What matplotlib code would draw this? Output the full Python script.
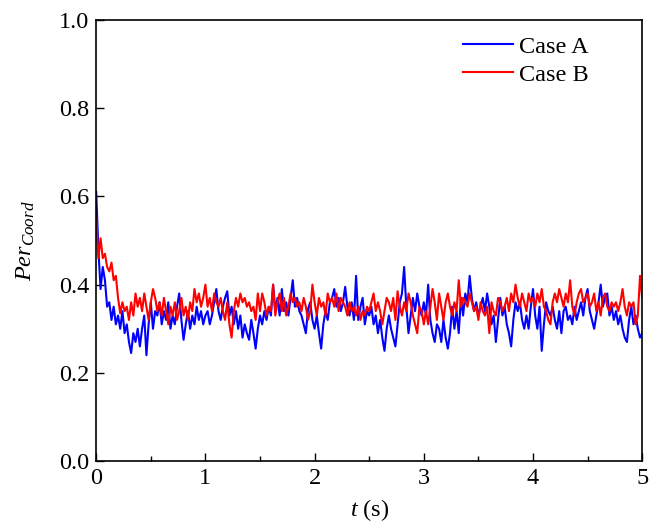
import matplotlib
matplotlib.use("Agg")
import matplotlib.pyplot as plt
import numpy as np
from matplotlib.ticker import MultipleLocator, FormatStrFormatter

case_a_0_1 = [0.61, 0.48, 0.39, 0.44, 0.41, 0.35, 0.36, 0.32, 0.35, 0.31,
              0.33, 0.30, 0.34, 0.29, 0.31, 0.27, 0.245, 0.29, 0.27, 0.30,
              0.26, 0.30, 0.33, 0.24, 0.31, 0.36, 0.30, 0.34, 0.33, 0.36,
              0.31, 0.34, 0.32, 0.36, 0.30, 0.33, 0.31, 0.35, 0.38, 0.32,
              0.275, 0.31, 0.34, 0.30, 0.33, 0.31, 0.35, 0.32, 0.34, 0.31,
              0.33]
case_a_1_2 = [0.34, 0.31, 0.33, 0.36, 0.39, 0.34, 0.32, 0.35, 0.37, 0.385,
              0.33, 0.35, 0.31, 0.34, 0.30, 0.33, 0.28, 0.31, 0.29, 0.275,
              0.32, 0.29, 0.255, 0.30, 0.33, 0.31, 0.34, 0.32, 0.35, 0.33,
              0.40, 0.34, 0.37, 0.33, 0.39, 0.34, 0.36, 0.33, 0.37, 0.41,
              0.35, 0.37, 0.34, 0.33, 0.31, 0.29, 0.345, 0.36, 0.32, 0.30]
case_a_2_3 = [0.33, 0.29, 0.255, 0.31, 0.34, 0.32, 0.36, 0.37, 0.39, 0.35,
              0.37, 0.34, 0.36, 0.395, 0.35, 0.33, 0.36, 0.32, 0.42, 0.32,
              0.35, 0.37, 0.31, 0.34, 0.33, 0.35, 0.31, 0.33, 0.29, 0.32,
              0.28, 0.25, 0.30, 0.33, 0.30, 0.28, 0.26, 0.31, 0.36, 0.38,
              0.44, 0.35, 0.29, 0.33, 0.37, 0.34, 0.38, 0.35, 0.33, 0.36]
case_a_3_4 = [0.33, 0.40, 0.32, 0.29, 0.27, 0.31, 0.30, 0.27, 0.32, 0.28,
              0.255, 0.29, 0.35, 0.30, 0.34, 0.29, 0.37, 0.33, 0.38, 0.36,
              0.42, 0.37, 0.34, 0.36, 0.33, 0.35, 0.37, 0.34, 0.38, 0.35,
              0.31, 0.33, 0.27, 0.32, 0.37, 0.33, 0.35, 0.31, 0.29, 0.26,
              0.32, 0.36, 0.34, 0.36, 0.32, 0.30, 0.33, 0.30, 0.35, 0.39]
case_a_4_5 = [0.33, 0.30, 0.35, 0.25, 0.31, 0.36, 0.34, 0.33, 0.35, 0.32,
              0.30, 0.34, 0.29, 0.34, 0.35, 0.32, 0.33, 0.31, 0.35, 0.32,
              0.34, 0.36, 0.33, 0.37, 0.39, 0.34, 0.32, 0.30, 0.33, 0.36,
              0.40, 0.35, 0.37, 0.38, 0.33, 0.35, 0.32, 0.34, 0.31, 0.33,
              0.30, 0.28, 0.27, 0.32, 0.35, 0.31, 0.33, 0.30, 0.28, 0.29]

case_b_0_1 = [0.55, 0.46, 0.505, 0.46, 0.47, 0.44, 0.43, 0.45, 0.41, 0.42,
              0.37, 0.335, 0.36, 0.34, 0.35, 0.32, 0.36, 0.33, 0.38, 0.35,
              0.37, 0.34, 0.38, 0.35, 0.32, 0.36, 0.39, 0.37, 0.34, 0.36,
              0.33, 0.37, 0.34, 0.31, 0.35, 0.33, 0.36, 0.32, 0.34, 0.37,
              0.33, 0.35, 0.32, 0.36, 0.34, 0.39, 0.36, 0.38, 0.35, 0.37,
              0.40]
case_b_1_2 = [0.35, 0.37, 0.34, 0.38, 0.36, 0.35, 0.37, 0.34, 0.32, 0.36,
              0.31, 0.28, 0.34, 0.37, 0.35, 0.38, 0.36, 0.37, 0.35, 0.36,
              0.34, 0.35, 0.32, 0.38, 0.34, 0.38, 0.36, 0.33, 0.35, 0.34,
              0.40, 0.33, 0.36, 0.38, 0.34, 0.37, 0.33, 0.35, 0.38, 0.36,
              0.37, 0.35, 0.36, 0.34, 0.37, 0.35, 0.32, 0.34, 0.40, 0.36]
case_b_2_3 = [0.33, 0.37, 0.35, 0.36, 0.33, 0.38, 0.36, 0.37, 0.35, 0.38,
              0.34, 0.37, 0.36, 0.35, 0.33, 0.36, 0.34, 0.35, 0.33, 0.35,
              0.32, 0.34, 0.33, 0.35, 0.34, 0.36, 0.38, 0.34, 0.36, 0.34,
              0.31, 0.34, 0.37, 0.36, 0.34, 0.37, 0.32, 0.385, 0.35, 0.33,
              0.36, 0.34, 0.38, 0.36, 0.33, 0.31, 0.29, 0.35, 0.34, 0.31]
case_b_3_4 = [0.34, 0.31, 0.35, 0.39, 0.36, 0.32, 0.38, 0.35, 0.32, 0.36,
              0.38, 0.35, 0.33, 0.36, 0.34, 0.41, 0.35, 0.37, 0.36, 0.35,
              0.38, 0.36, 0.34, 0.35, 0.32, 0.36, 0.34, 0.33, 0.35, 0.29,
              0.36, 0.34, 0.33, 0.37, 0.36, 0.34, 0.35, 0.37, 0.34, 0.38,
              0.36, 0.40, 0.37, 0.35, 0.38, 0.36, 0.34, 0.38, 0.36, 0.37]
case_b_4_5 = [0.35, 0.38, 0.36, 0.39, 0.35, 0.34, 0.32, 0.31, 0.36, 0.38,
              0.36, 0.39, 0.37, 0.35, 0.38, 0.36, 0.41, 0.35, 0.33, 0.36,
              0.38, 0.39, 0.36, 0.37, 0.38, 0.35, 0.36, 0.38, 0.34, 0.36,
              0.33, 0.37, 0.38, 0.35, 0.34, 0.36, 0.35, 0.36, 0.34, 0.36,
              0.39, 0.35, 0.33, 0.36, 0.35, 0.36, 0.31, 0.33, 0.42, 0.37]

case_a = np.array(case_a_0_1 + case_a_1_2 + case_a_2_3 + case_a_3_4 + case_a_4_5)
case_b = np.array(case_b_0_1 + case_b_1_2 + case_b_2_3 + case_b_3_4 + case_b_4_5)
t_end = 5.0
t = np.linspace(0, t_end, len(case_a))

plt.rcParams["font.family"] = "Liberation Serif"
plt.rcParams["mathtext.fontset"] = "custom"
plt.rcParams["mathtext.rm"] = "Liberation Serif"
plt.rcParams["mathtext.it"] = "Liberation Serif:italic"
plt.rcParams["font.size"] = 17.5

fig = plt.figure(figsize=(6.5, 5.24), dpi=100)
ax = fig.add_axes([0.148, 0.120, 0.840, 0.842])

ax.plot(t, case_a, color="#0000ff", lw=1.5, label="Case A")
ax.plot(t, case_b, color="#ff0000", lw=1.5, label="Case B")

ax.set_xlim(0, 5)
ax.set_ylim(0, 1)
ax.xaxis.set_major_locator(MultipleLocator(1))
ax.xaxis.set_minor_locator(MultipleLocator(0.5))
ax.yaxis.set_major_locator(MultipleLocator(0.2))
ax.yaxis.set_major_formatter(FormatStrFormatter("%.1f"))
ax.tick_params(which="both", direction="in", top=False, right=False)
ax.tick_params(which="major", length=6, width=1, pad=5)
ax.tick_params(which="minor", length=3.5, width=1)
for sp in ax.spines.values():
    sp.set_linewidth(1.2)

ax.set_xlabel("$t$ (s)", labelpad=6)
ax.set_ylabel("$Per_{Coord}$", labelpad=16)

leg = ax.legend(loc="upper left", bbox_to_anchor=(0.65, 0.992), frameon=False,
                borderpad=0, handlelength=2.05, handletextpad=0.25,
                labelspacing=0.25)
for line in leg.get_lines():
    line.set_linewidth(1.5)

fig.savefig("out.png", dpi=100)
